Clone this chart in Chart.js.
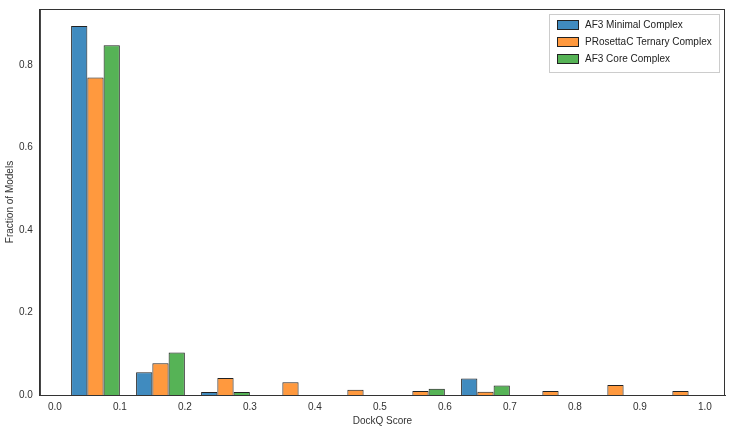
<!DOCTYPE html>
<html><head><meta charset="utf-8">
<script src="https://cdn.jsdelivr.net/npm/chart.js@4/dist/chart.umd.min.js"></script>
<style>html,body{margin:0;padding:0;background:#fff}#w{width:729px;height:428px}</style>
</head><body><div id="w"><canvas id="c"></canvas></div>
<script>
const binStarts = [0.0,0.1,0.2,0.3,0.4,0.5,0.6,0.7,0.8,0.9];
const seriesNames = ["AF3 Minimal Complex","PRosettaC Ternary Complex","AF3 Core Complex"];
const minimal = [0.895,0.055,0.007,0,0,0,0.040,0,0,0];
const prosettac = [0.770,0.077,0.041,0.031,0.013,0.010,0.008,0.010,0.024,0.010];
const core = [0.848,0.103,0.007,0,0,0.015,0.023,0,0,0];
const xTicks = [0,0.1,0.2,0.3,0.4,0.5,0.6,0.7,0.8,0.9,1.0];
const yTicks = [0,0.2,0.4,0.6,0.8];
const colors = ["rgba(31,119,180,0.85)","rgba(255,127,14,0.8)","rgba(44,160,44,0.8)"];
const mk = (arr,i)=>({label:seriesNames[i],data:binStarts.map((b,k)=>({x:b+0.0625,y:arr[k]})),
  backgroundColor:colors[i],borderColor:"#222",borderWidth:1,categoryPercentage:0.75,barPercentage:1});
const legendPlugin={id:'lg',afterDraw(ch){const c=ch.ctx,a=ch.chartArea;
 c.save();c.strokeStyle='#333';c.lineWidth=1;c.strokeRect(a.left+.5,a.top+.5,a.right-a.left-1,a.bottom-a.top);
 const w=170,h=58,x=a.right-w-6,y=a.top+5;
 c.fillStyle='#fff';c.strokeStyle='#ccc';c.fillRect(x,y,w,h);c.strokeRect(x+.5,y+.5,w,h);
 c.font='10px "Liberation Sans", Arial';c.textBaseline='middle';
 seriesNames.forEach((n,i)=>{const yy=y+11+i*17;c.fillStyle=colors[i];c.fillRect(x+8,yy-5,22,10);c.strokeStyle='#222';c.strokeRect(x+8.5,yy-4.5,21,9);
 c.fillStyle='#222';c.fillText(n,x+36,yy);});c.restore();}};
const tk = (vals)=>(ax)=>{ax.ticks=vals.map(v=>({value:v}));};
new Chart(document.getElementById('c'),{type:'bar',
 data:{datasets:[mk(minimal,0),mk(prosettac,1),mk(core,2)]},
 plugins:[legendPlugin],
 options:{responsive:true,maintainAspectRatio:false,animation:false,
  layout:{padding:{top:3,right:4,left:0,bottom:0}},
  plugins:{legend:{display:false},tooltip:{enabled:false}},
  scales:{
   x:{type:'linear',offset:false,min:-0.023,max:1.031,afterBuildTicks:tk(xTicks),
    grid:{display:false,drawTicks:true,tickLength:4,color:'#333'},border:{display:true,color:'#333'},
    ticks:{color:'#333',padding:2,font:{size:10,family:'Liberation Sans'},callback:v=>v.toFixed(1),maxRotation:0},
    title:{display:true,text:'DockQ Score',color:'#333',font:{size:10,family:'Liberation Sans'},padding:{top:0,bottom:1}}},
   y:{min:0,max:0.936,afterBuildTicks:tk(yTicks),
    grid:{display:false,drawTicks:true,tickLength:4},border:{display:true,color:'#333'},
    ticks:{color:'#333',font:{size:10,family:'Liberation Sans'},callback:v=>v===0?'0.0':v.toFixed(1)},
    title:{display:true,text:'Fraction of Models',color:'#333',font:{size:10,family:'Liberation Sans'},padding:{bottom:0}}}
  }}});
</script></body></html>
